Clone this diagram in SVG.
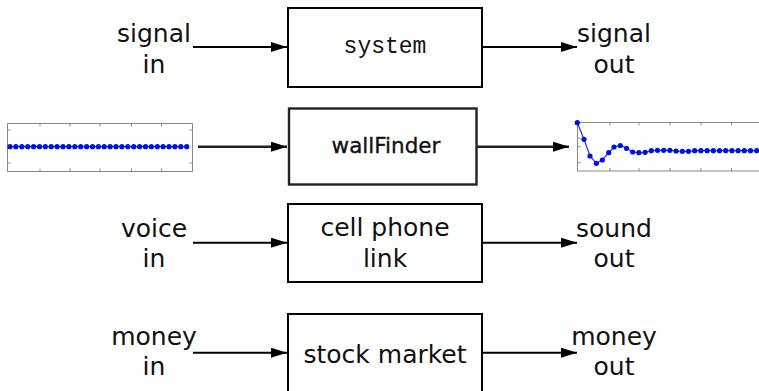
<svg xmlns="http://www.w3.org/2000/svg" width="759" height="391" viewBox="0 0 759 391">
<defs>
<style>
.box{fill:#fff;stroke:#000;stroke-width:2}
.box2{fill:#fff;stroke:#222;stroke-width:2.4}
.lbl{font-family:"DejaVu Sans",sans-serif;font-size:25px;fill:#111;text-anchor:middle}
.mono{font-family:"Liberation Mono","Courier New",monospace;font-size:23px;fill:#111;text-anchor:middle}
.wf{font-family:"DejaVu Sans",sans-serif;font-size:21.5px;fill:#111;stroke:#111;stroke-width:0.35;text-anchor:middle}
.ar{stroke:#000;stroke-width:2;fill:none;marker-end:url(#ah)}
.ar2{stroke:#222;stroke-width:2.4;fill:none;marker-end:url(#ah)}
.frame{fill:#fff;stroke:#888;stroke-width:1}
.tick{stroke:#888;stroke-width:1}
.sig{stroke:#2a2aff;stroke-width:1.2;fill:none}
.dot{fill:#0010e0}
</style>
<marker id="ah" viewBox="0 0 16 10" refX="16" refY="5" markerWidth="16" markerHeight="10" markerUnits="userSpaceOnUse" orient="auto">
<path d="M0,0 L16,5 L0,10 z" fill="#000"/>
</marker>
</defs>

<g id="connectors">
<line class="ar" x1="193" y1="47" x2="287" y2="47"/>
<line class="ar" x1="482" y1="47" x2="577" y2="47"/>
<line class="ar2" x1="198" y1="146.7" x2="287" y2="146.7"/>
<line class="ar2" x1="477" y1="146.7" x2="569" y2="146.7"/>
<line class="ar" x1="193" y1="242.7" x2="287" y2="242.7"/>
<line class="ar" x1="482" y1="242.7" x2="577" y2="242.7"/>
<line class="ar" x1="193" y1="352.7" x2="287" y2="352.7"/>
<line class="ar" x1="482" y1="352.7" x2="577" y2="352.7"/>
</g>

<g id="node-system">
<rect class="box" x="288" y="8" width="194" height="79"/>
<text class="mono" x="385" y="53">system</text>
</g>
<g id="label-signal-in">
<text class="lbl" x="154" y="42">signal</text>
<text class="lbl" x="154" y="73">in</text>
</g>
<g id="label-signal-out">
<text class="lbl" x="614" y="42">signal</text>
<text class="lbl" x="614" y="73">out</text>
</g>

<g id="node-wallFinder">
<rect class="box2" x="289" y="108.5" width="187.5" height="76"/>
<text class="wf" x="386" y="153">wallFinder</text>
</g>

<g id="plot-in">
<rect class="frame" x="7.5" y="123.5" width="185" height="48"/>
<g class="tick">
<line x1="40" y1="123.5" x2="40" y2="126.5"/><line x1="70" y1="123.5" x2="70" y2="126.5"/><line x1="100" y1="123.5" x2="100" y2="126.5"/><line x1="131.5" y1="123.5" x2="131.5" y2="126.5"/><line x1="161.5" y1="123.5" x2="161.5" y2="126.5"/>
<line x1="40" y1="171.5" x2="40" y2="168.5"/><line x1="70" y1="171.5" x2="70" y2="168.5"/><line x1="100" y1="171.5" x2="100" y2="168.5"/><line x1="131.5" y1="171.5" x2="131.5" y2="168.5"/><line x1="161.5" y1="171.5" x2="161.5" y2="168.5"/>
<line x1="7.5" y1="130" x2="10.5" y2="130"/><line x1="7.5" y1="163" x2="10.5" y2="163"/>
<line x1="192.5" y1="130" x2="189.5" y2="130"/><line x1="192.5" y1="163" x2="189.5" y2="163"/>
</g>
<line class="sig" x1="9" y1="146.7" x2="187" y2="146.7"/>
<g class="dot">
<circle cx="10" cy="146.7" r="2.6"/><circle cx="15.9" cy="146.7" r="2.6"/><circle cx="21.8" cy="146.7" r="2.6"/><circle cx="27.7" cy="146.7" r="2.6"/><circle cx="33.6" cy="146.7" r="2.6"/><circle cx="39.5" cy="146.7" r="2.6"/><circle cx="45.3" cy="146.7" r="2.6"/><circle cx="51.2" cy="146.7" r="2.6"/><circle cx="57.1" cy="146.7" r="2.6"/><circle cx="63" cy="146.7" r="2.6"/><circle cx="68.9" cy="146.7" r="2.6"/><circle cx="74.8" cy="146.7" r="2.6"/><circle cx="80.7" cy="146.7" r="2.6"/><circle cx="86.6" cy="146.7" r="2.6"/><circle cx="92.5" cy="146.7" r="2.6"/><circle cx="98.4" cy="146.7" r="2.6"/><circle cx="104.2" cy="146.7" r="2.6"/><circle cx="110.1" cy="146.7" r="2.6"/><circle cx="116" cy="146.7" r="2.6"/><circle cx="121.9" cy="146.7" r="2.6"/><circle cx="127.8" cy="146.7" r="2.6"/><circle cx="133.7" cy="146.7" r="2.6"/><circle cx="139.6" cy="146.7" r="2.6"/><circle cx="145.5" cy="146.7" r="2.6"/><circle cx="151.4" cy="146.7" r="2.6"/><circle cx="157.3" cy="146.7" r="2.6"/><circle cx="163.1" cy="146.7" r="2.6"/><circle cx="169" cy="146.7" r="2.6"/><circle cx="174.9" cy="146.7" r="2.6"/><circle cx="180.8" cy="146.7" r="2.6"/><circle cx="186.7" cy="146.7" r="2.6"/>
</g>
</g>

<g id="plot-out">
<rect class="frame" x="577.5" y="122.5" width="190" height="48.5"/>
<g class="tick">
<line x1="610" y1="122.5" x2="610" y2="125.5"/><line x1="639" y1="122.5" x2="639" y2="125.5"/><line x1="670" y1="122.5" x2="670" y2="125.5"/><line x1="701" y1="122.5" x2="701" y2="125.5"/><line x1="731.5" y1="122.5" x2="731.5" y2="125.5"/>
<line x1="610" y1="171" x2="610" y2="168"/><line x1="639" y1="171" x2="639" y2="168"/><line x1="670" y1="171" x2="670" y2="168"/><line x1="701" y1="171" x2="701" y2="168"/><line x1="731.5" y1="171" x2="731.5" y2="168"/>
<line x1="577.5" y1="138.3" x2="580.5" y2="138.3"/><line x1="577.5" y1="146.7" x2="580.5" y2="146.7"/><line x1="577.5" y1="162.7" x2="580.5" y2="162.7"/>
</g>
<polyline class="sig" points="577.3,122.7 584,139.3 590,156 596.3,163.3 602.3,160 608.7,152.7 614,147 620.3,145.5 626.5,148.3 632.7,152 638.9,152.7 645.1,152.3 651.3,150.7 657.5,150.3 663.7,150.3 669.9,150.3 676.1,151 682.3,151.3 688.5,151.3 694.7,150.7 700.9,150.7 707.1,150.7 713.3,150.7 719.5,150.7 725.7,150.7 731.9,150.7 738.1,150.7 744.3,150.7 750.5,150.7 756.7,150.7"/>
<g class="dot">
<circle cx="577.3" cy="122.7" r="2.6"/><circle cx="584" cy="139.3" r="2.6"/><circle cx="590" cy="156" r="2.6"/><circle cx="596.3" cy="163.3" r="2.6"/><circle cx="602.3" cy="160" r="2.6"/><circle cx="608.7" cy="152.7" r="2.6"/><circle cx="614" cy="147" r="2.6"/><circle cx="620.3" cy="145.5" r="2.6"/><circle cx="626.5" cy="148.3" r="2.6"/><circle cx="632.7" cy="152" r="2.6"/><circle cx="638.9" cy="152.7" r="2.6"/><circle cx="645.1" cy="152.3" r="2.6"/><circle cx="651.3" cy="150.7" r="2.6"/><circle cx="657.5" cy="150.3" r="2.6"/><circle cx="663.7" cy="150.3" r="2.6"/><circle cx="669.9" cy="150.3" r="2.6"/><circle cx="676.1" cy="151" r="2.6"/><circle cx="682.3" cy="151.3" r="2.6"/><circle cx="688.5" cy="151.3" r="2.6"/><circle cx="694.7" cy="150.7" r="2.6"/><circle cx="700.9" cy="150.7" r="2.6"/><circle cx="707.1" cy="150.7" r="2.6"/><circle cx="713.3" cy="150.7" r="2.6"/><circle cx="719.5" cy="150.7" r="2.6"/><circle cx="725.7" cy="150.7" r="2.6"/><circle cx="731.9" cy="150.7" r="2.6"/><circle cx="738.1" cy="150.7" r="2.6"/><circle cx="744.3" cy="150.7" r="2.6"/><circle cx="750.5" cy="150.7" r="2.6"/><circle cx="756.7" cy="150.7" r="2.6"/>
</g>
</g>

<g id="node-cellphone">
<rect class="box" x="288" y="204" width="194" height="78"/>
<text class="lbl" x="385" y="236">cell phone</text>
<text class="lbl" x="385" y="267">link</text>
</g>
<g id="label-voice-in">
<text class="lbl" x="154" y="237">voice</text>
<text class="lbl" x="154" y="267">in</text>
</g>
<g id="label-sound-out">
<text class="lbl" x="614" y="237">sound</text>
<text class="lbl" x="614" y="267">out</text>
</g>

<g id="node-stock">
<rect class="box" x="288" y="314" width="194" height="80"/>
<text class="lbl" x="385" y="363">stock market</text>
</g>
<g id="label-money-in">
<text class="lbl" x="154" y="345">money</text>
<text class="lbl" x="154" y="375">in</text>
</g>
<g id="label-money-out">
<text class="lbl" x="614" y="345">money</text>
<text class="lbl" x="614" y="375">out</text>
</g>
</svg>
